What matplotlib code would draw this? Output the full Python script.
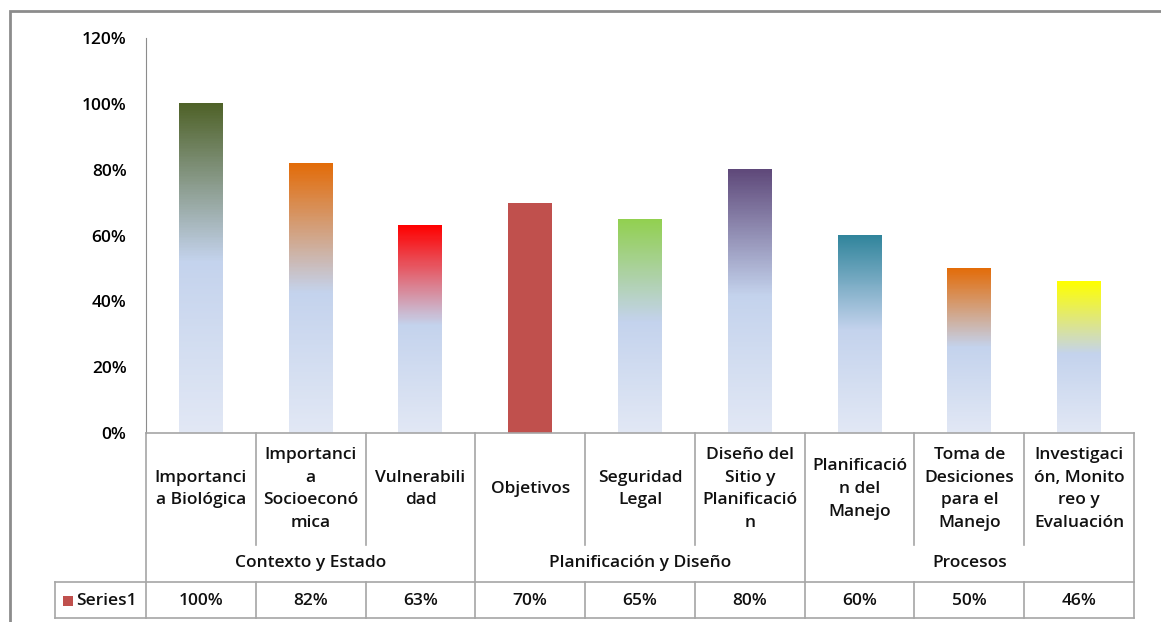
import numpy as np
import matplotlib
matplotlib.use('Agg')
import matplotlib.pyplot as plt
from matplotlib.colors import to_rgb
from matplotlib.transforms import blended_transform_factory
from matplotlib.patches import Rectangle

plt.rcParams['font.family'] = ['Open Sans', 'DejaVu Sans']
plt.rcParams['font.weight'] = 600

categories = ['Importanci\na Biológica', 'Importanci\na\nSocioeconó\nmica', 'Vulnerabili\ndad',
              'Objetivos', 'Seguridad\nLegal', 'Diseño del\nSitio y\nPlanificació\nn',
              'Planificació\nn del\nManejo', 'Toma de\nDesiciones\npara el\nManejo',
              'Investigaci\nón, Monito\nreo y\nEvaluación']
groups = ['Contexto y Estado', 'Planificación y Diseño', 'Procesos']
group_sizes = [3, 3, 3]
values = [1.00, 0.82, 0.63, 0.70, 0.65, 0.80, 0.60, 0.50, 0.46]
top_colors = ['#4F6228', '#E36C09', '#FF0000', '#C0504D', '#92D050',
              '#5F497A', '#31859C', '#E36C09', '#FFFF00']
gradient = [True, True, True, False, True, True, True, True, True]
series_name = 'Series1'
yticks = [0, 0.2, 0.4, 0.6, 0.8, 1.0, 1.2]

W, H = 1161, 622
FS = 12.5
fig = plt.figure(figsize=(W / 100, H / 100), dpi=100)
fig.patch.set_facecolor('white')

# outer chart frame (only top/left visible)
fig.add_artist(Rectangle((10 / W, -0.1), 1.2, 1 - 11 / H + 0.1, transform=fig.transFigure,
                         fill=False, edgecolor='#8C8C8C', linewidth=2))

ax = fig.add_axes([146 / W, (H - 433) / H, (1134 - 146) / W, 395 / H])
x = np.arange(len(values))
w = 0.4

blue_bot = np.array(to_rgb('#E2E8F5'))
blue_mid = np.array(to_rgb('#C4D3ED'))
for xi, v, c, g in zip(x, values, top_colors, gradient):
    if g:
        t = np.linspace(0, 1, 200)[:, None]
        top = np.array(to_rgb(c))
        lo = blue_bot + (blue_mid - blue_bot) * np.clip(t / 0.52, 0, 1)
        hi = blue_mid + (top - blue_mid) * np.clip((t - 0.52) / 0.48, 0, 1)
        col = np.where(t < 0.52, lo, hi)
        img = col[::-1][:, None, :]
        ax.imshow(img, extent=(xi - w / 2, xi + w / 2, 0, v), aspect='auto',
                  interpolation='nearest', zorder=2)
    else:
        ax.bar(xi, v, width=w, color=c, zorder=2)

ax.set_xlim(-0.5, len(values) - 0.5)
ax.set_ylim(0, 1.2)
ax.set_yticks(yticks)
ax.set_yticklabels([f'{int(round(t * 100))}%' for t in yticks], fontsize=FS)
ax.tick_params(axis='y', length=0, pad=14)
ax.set_xticks([])
for s in ['top', 'right']:
    ax.spines[s].set_visible(False)
ax.spines['left'].set_color('#8C8C8C')
ax.spines['bottom'].set_color('#A6A6A6')
ax.spines['bottom'].set_linewidth(1.2)

# category table under the axis
tr = blended_transform_factory(ax.transData, fig.transFigure)
fy = lambda p: 1 - p / H
lc = '#A6A6A6'
bounds = np.arange(len(values) + 1) - 0.5
group_edges = np.concatenate([[0], np.cumsum(group_sizes)]) - 0.5
for b in bounds:
    if b in group_edges:
        ax.plot([b, b], [fy(433), fy(618)], transform=tr, color=lc, lw=1.2, clip_on=False)
    else:
        ax.plot([b, b], [fy(433), fy(545)], transform=tr, color=lc, lw=1.2, clip_on=False)
        ax.plot([b, b], [fy(582), fy(618)], transform=tr, color=lc, lw=1.2, clip_on=False)

for xi, lab in zip(x, categories):
    ax.text(xi, fy(489), lab, transform=tr, ha='center', va='center', fontsize=FS,
            linespacing=1.55, color='#111111')

start = 0
for g, n in zip(groups, group_sizes):
    ax.text(start + (n - 1) / 2, fy(563), g, transform=tr, ha='center', va='center',
            fontsize=FS, color='#111111')
    start += n

# data table row
fig.add_artist(plt.Line2D([55 / W, 1134 / W], [fy(582), fy(582)], color=lc, lw=1.2))
fig.add_artist(plt.Line2D([55 / W, 1134 / W], [fy(618), fy(618)], color=lc, lw=1.2))
fig.add_artist(plt.Line2D([55 / W, 55 / W], [fy(582), fy(618)], color=lc, lw=1.2))
fig.add_artist(Rectangle((63 / W, fy(606)), 10 / W, 10 / H, transform=fig.transFigure,
                         facecolor='#C0504D', edgecolor='none'))
fig.text(76 / W, fy(601), series_name, ha='left', va='center', fontsize=FS, color='#111111')
for xi, v in zip(x, values):
    ax.text(xi, fy(601), f'{int(round(v * 100))}%', transform=tr, ha='center', va='center',
            fontsize=FS, color='#111111')

plt.savefig('out.png', dpi=100)
plt.close()
